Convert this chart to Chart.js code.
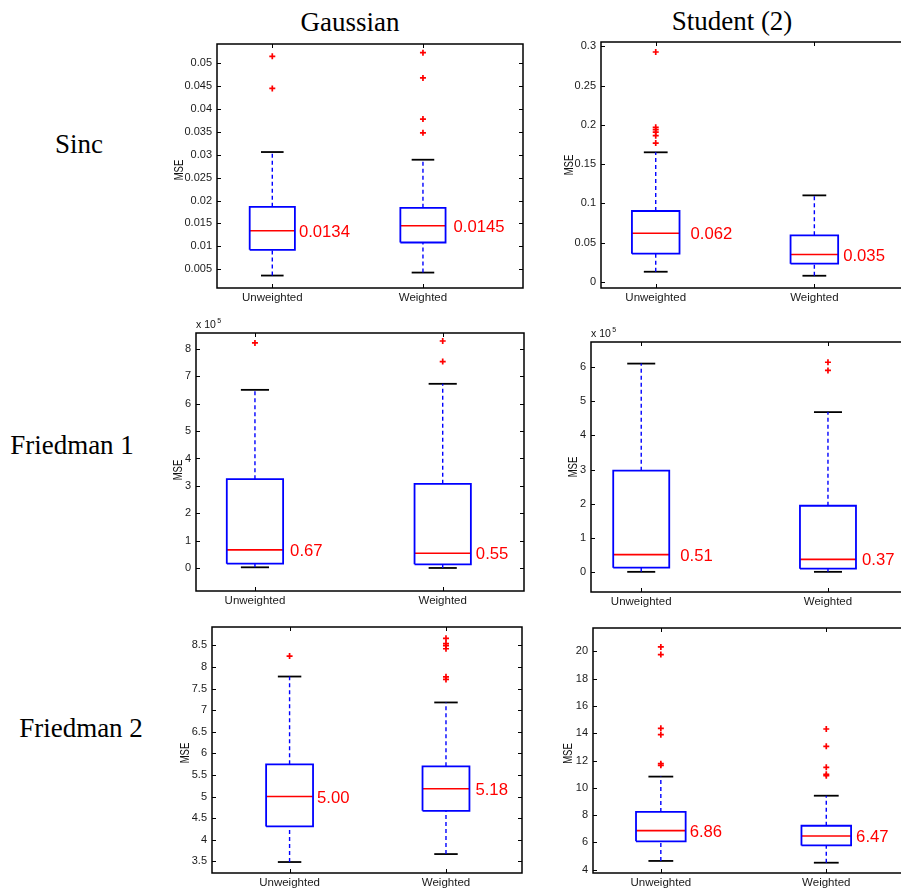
<!DOCTYPE html>
<html>
<head>
<meta charset="utf-8">
<title>MSE boxplots</title>
<script src="https://cdn.jsdelivr.net/npm/chart.js@4.4.0/dist/chart.umd.min.js"></script>
<style>
html, body { margin: 0; padding: 0; background: #fff; overflow: hidden; }
#fig { position: relative; width: 901px; height: 891px; overflow: hidden; background: #fff; }
#fig canvas { position: absolute; }
.lbl { position: absolute; font-family: "Liberation Serif", serif; font-size: 27px; line-height: 27px;
       color: #000; white-space: nowrap; transform: translateX(-50%); }
</style>
</head>
<body>
<div id="fig">
  <div class="lbl" style="left:350px; top:9px">Gaussian</div>
  <div class="lbl" style="left:732px; top:8px">Student (2)</div>
  <div class="lbl" style="left:79px; top:131px">Sinc</div>
  <div class="lbl" style="left:72px; top:432px">Friedman 1</div>
  <div class="lbl" style="left:81px; top:715px">Friedman 2</div>
</div>
<script>
var categories = ['Unweighted', 'Weighted'];

// per group: [lower whisker, Q1, median, Q3, upper whisker]
var sincGaussianStats = [[0.00362, 0.00923, 0.0134, 0.01864, 0.0306], [0.00427, 0.01084, 0.0145, 0.01842, 0.02892]];
var sincGaussianOutliers = [[0.0515, 0.0445], [0.0523, 0.0468, 0.0378, 0.0348]];
var sincGaussianTicks = [0.005, 0.01, 0.015, 0.02, 0.025, 0.03, 0.035, 0.04, 0.045, 0.05];

var sincStudentStats = [[0.0131, 0.0361, 0.062, 0.0904, 0.1651], [0.008, 0.0233, 0.035, 0.0594, 0.1103]];
var sincStudentOutliers = [[0.2928, 0.1969, 0.1939, 0.1909, 0.1863, 0.1769], []];
var sincStudentTicks = [0, 0.05, 0.1, 0.15, 0.2, 0.25, 0.3];

// Friedman 1 values are in units of 1e5
var fried1GaussianStats = [[0.036, 0.17, 0.67, 3.246, 6.5], [0.012, 0.146, 0.55, 3.076, 6.72]];
var fried1GaussianOutliers = [[8.21], [8.28, 7.53]];
var fried1GaussianTicks = [0, 1, 2, 3, 4, 5, 6, 7, 8];

var fried1StudentStats = [[0.005, 0.127, 0.51, 2.966, 6.1], [0.005, 0.098, 0.37, 1.94, 4.68]];
var fried1StudentOutliers = [[], [6.14, 5.9]];
var fried1StudentTicks = [0, 1, 2, 3, 4, 5, 6];

var fried2GaussianStats = [[3.485, 4.308, 5.00, 5.746, 7.777], [3.669, 4.669, 5.18, 5.7, 7.177]];
var fried2GaussianOutliers = [[8.25], [8.66, 8.54, 8.49, 8.42, 7.77, 7.71]];
var fried2GaussianTicks = [3.5, 4, 4.5, 5, 5.5, 6, 6.5, 7, 7.5, 8, 8.5];

var fried2StudentStats = [[4.64, 6.08, 6.86, 8.23, 10.82], [4.51, 5.78, 6.47, 7.22, 9.42]];
var fried2StudentOutliers = [[20.32, 19.76, 14.36, 13.89, 11.77, 11.65], [14.31, 13.04, 11.5, 10.99, 10.89]];
var fried2StudentTicks = [4, 6, 8, 10, 12, 14, 16, 18, 20];

var BLUE = '#0000ff', RED = '#ff0000', INK = '#000000';
var BOX_HALF = 0.15, CAP_HALF = 0.075;
var AXIS_W = 60, PAD_TOP = 20, XAXIS_H = 24, PAD_RIGHT = 6;
var SANS = '"Liberation Sans", Arial, sans-serif';

// rect = plot area on the page [left, top, right, bottom]
var panels = [
  { stats: sincGaussianStats, outliers: sincGaussianOutliers, ticks: sincGaussianTicks,
    rect: [217, 44, 523, 288], xr: [0.633, 2.664], yr: [0.0009, 0.0542], digits: 4, gaps: [4, 8], mse: [37, 4] },
  { stats: sincStudentStats, outliers: sincStudentOutliers, ticks: sincStudentTicks,
    rect: [601, 42, 920, 288], xr: [0.655, 2.666], yr: [-0.0076, 0.3055], digits: 3, gaps: [11, 5], mse: [31, 0] },
  { stats: fried1GaussianStats, outliers: fried1GaussianOutliers, ticks: fried1GaussianTicks,
    rect: [196, 333, 524, 591], xr: [0.686, 2.433], yr: [-0.827, 8.571], digits: 2, gaps: [7, 5], mse: [17, 8], exponent: 5 },
  { stats: fried1StudentStats, outliers: fried1StudentOutliers, ticks: fried1StudentTicks,
    rect: [591, 342, 912, 592], xr: [0.731, 2.45], yr: [-0.585, 6.732], digits: 2, gaps: [11, 6], mse: [17, 0], exponent: 5 },
  { stats: fried2GaussianStats, outliers: fried2GaussianOutliers, ticks: fried2GaussianTicks,
    rect: [212, 627, 522, 873], xr: [0.504, 2.486], yr: [3.231, 8.923], digits: 2, gaps: [4, 6], mse: [26, 3] },
  { stats: fried2StudentStats, outliers: fried2StudentOutliers, ticks: fried2StudentTicks,
    rect: [593, 628, 909, 873], xr: [0.59, 2.5], yr: [3.756, 21.71], digits: 2, gaps: [4, 5], mse: [24, 3] }
];

function seg(points, color, width, dash) {
  return {
    data: points, showLine: true, borderColor: color, borderWidth: width,
    borderDash: dash || [], pointRadius: 0, fill: false, tension: 0
  };
}

function buildDatasets(p) {
  var sets = [];
  p.stats.forEach(function (s, i) {
    var x = i + 1;
    var lo = s[0], q1 = s[1], med = s[2], q3 = s[3], hi = s[4];
    sets.push(seg([{x: x, y: q3}, {x: x, y: hi}], BLUE, 1.4, [4, 3]));
    sets.push(seg([{x: x, y: lo}, {x: x, y: q1}], BLUE, 1.4, [4, 3]));
    sets.push(seg([{x: x - CAP_HALF, y: hi}, {x: x + CAP_HALF, y: hi}], INK, 1.8));
    sets.push(seg([{x: x - CAP_HALF, y: lo}, {x: x + CAP_HALF, y: lo}], INK, 1.8));
    sets.push(seg([
      {x: x - BOX_HALF, y: q1}, {x: x + BOX_HALF, y: q1}, {x: x + BOX_HALF, y: q3},
      {x: x - BOX_HALF, y: q3}, {x: x - BOX_HALF, y: q1}
    ], BLUE, 1.8));
    sets.push(seg([{x: x - BOX_HALF, y: med}, {x: x + BOX_HALF, y: med}], RED, 1.6));
    sets.push({
      data: p.outliers[i].map(function (v) { return {x: x, y: v}; }),
      showLine: false, pointStyle: 'cross', pointRadius: 3,
      pointBorderColor: RED, pointBorderWidth: 1.7, pointBackgroundColor: RED
    });
  });
  return sets;
}

// frame, inward tick marks, median values, axis label and exponent
function decor(p) {
  return {
    id: 'decor',
    afterDatasetsDraw: function (chart) {
      var ctx = chart.ctx, a = chart.chartArea;
      var xs = chart.scales.x, ys = chart.scales.y;
      ctx.save();
      ctx.strokeStyle = INK;
      ctx.lineWidth = 1;
      ctx.beginPath();
      ys.ticks.forEach(function (t) {
        var y = Math.round(ys.getPixelForValue(t.value)) + 0.5;
        ctx.moveTo(a.left, y); ctx.lineTo(a.left + 4, y);
        ctx.moveTo(a.right, y); ctx.lineTo(a.right - 4, y);
      });
      xs.ticks.forEach(function (t) {
        var x = Math.round(xs.getPixelForValue(t.value)) + 0.5;
        ctx.moveTo(x, a.bottom); ctx.lineTo(x, a.bottom - 4);
        ctx.moveTo(x, a.top); ctx.lineTo(x, a.top + 4);
      });
      ctx.stroke();
      ctx.lineWidth = 1.5;
      ctx.strokeRect(a.left, a.top, a.right - a.left, a.bottom - a.top);

      ctx.fillStyle = RED;
      ctx.font = '16.7px ' + SANS;
      ctx.textAlign = 'left';
      ctx.textBaseline = 'middle';
      p.stats.forEach(function (s, i) {
        var px = xs.getPixelForValue(i + 1 + BOX_HALF) + p.gaps[i];
        var py = ys.getPixelForValue(s[2]) + 1.5;
        ctx.fillText(s[2].toFixed(p.digits), px, py);
      });

      ctx.fillStyle = '#111';
      ctx.save();
      ctx.translate(a.left - p.mse[0], (a.top + a.bottom) / 2 + p.mse[1]);
      ctx.rotate(-Math.PI / 2);
      ctx.scale(0.76, 1);
      ctx.font = '12.5px ' + SANS;
      ctx.textAlign = 'center';
      ctx.fillText('MSE', 0, 0);
      ctx.restore();

      if (p.exponent) {
        ctx.textAlign = 'left';
        ctx.textBaseline = 'alphabetic';
        ctx.font = '10.5px ' + SANS;
        ctx.fillText('x 10', a.left, a.top - 5);
        var w = ctx.measureText('x 10').width;
        ctx.font = '7px ' + SANS;
        ctx.fillText(String(p.exponent), a.left + w + 1.5, a.top - 10);
      }
      ctx.restore();
    }
  };
}

var fig = document.getElementById('fig');
panels.forEach(function (p) {
  var r = p.rect;
  var cv = document.createElement('canvas');
  var w = (r[2] - r[0]) + AXIS_W + PAD_RIGHT;
  var h = (r[3] - r[1]) + PAD_TOP + XAXIS_H;
  cv.width = w; cv.height = h;
  cv.style.left = (r[0] - AXIS_W) + 'px';
  cv.style.top = (r[1] - PAD_TOP) + 'px';
  cv.style.width = w + 'px';
  cv.style.height = h + 'px';
  fig.appendChild(cv);

  new Chart(cv, {
    type: 'scatter',
    data: { datasets: buildDatasets(p) },
    options: {
      responsive: false,
      animation: false,
      events: [],
      layout: { padding: { top: PAD_TOP, right: PAD_RIGHT, bottom: 0, left: 0 } },
      plugins: { legend: { display: false }, tooltip: { enabled: false } },
      scales: {
        x: {
          type: 'linear', min: p.xr[0], max: p.xr[1], bounds: 'data',
          grid: { display: false, drawTicks: false }, border: { display: false },
          afterBuildTicks: function (s) { s.ticks = categories.map(function (c, i) { return {value: i + 1}; }); },
          afterFit: function (s) { s.height = XAXIS_H; },
          ticks: {
            padding: 3, maxRotation: 0, autoSkip: false, color: '#1a1a1a',
            font: { family: SANS, size: 11.5 },
            callback: function (v) { return categories[Math.round(v) - 1]; }
          }
        },
        y: {
          type: 'linear', min: p.yr[0], max: p.yr[1], bounds: 'data',
          grid: { display: false, drawTicks: false }, border: { display: false },
          afterBuildTicks: function (s) { s.ticks = p.ticks.map(function (v) { return {value: v}; }); },
          afterFit: function (s) { s.width = AXIS_W; },
          ticks: {
            padding: 5, autoSkip: false, color: '#1a1a1a',
            font: { family: SANS, size: 11 },
            callback: function (v) { return String(v); }
          }
        }
      }
    },
    plugins: [decor(p)]
  });
});
</script>
</body>
</html>
